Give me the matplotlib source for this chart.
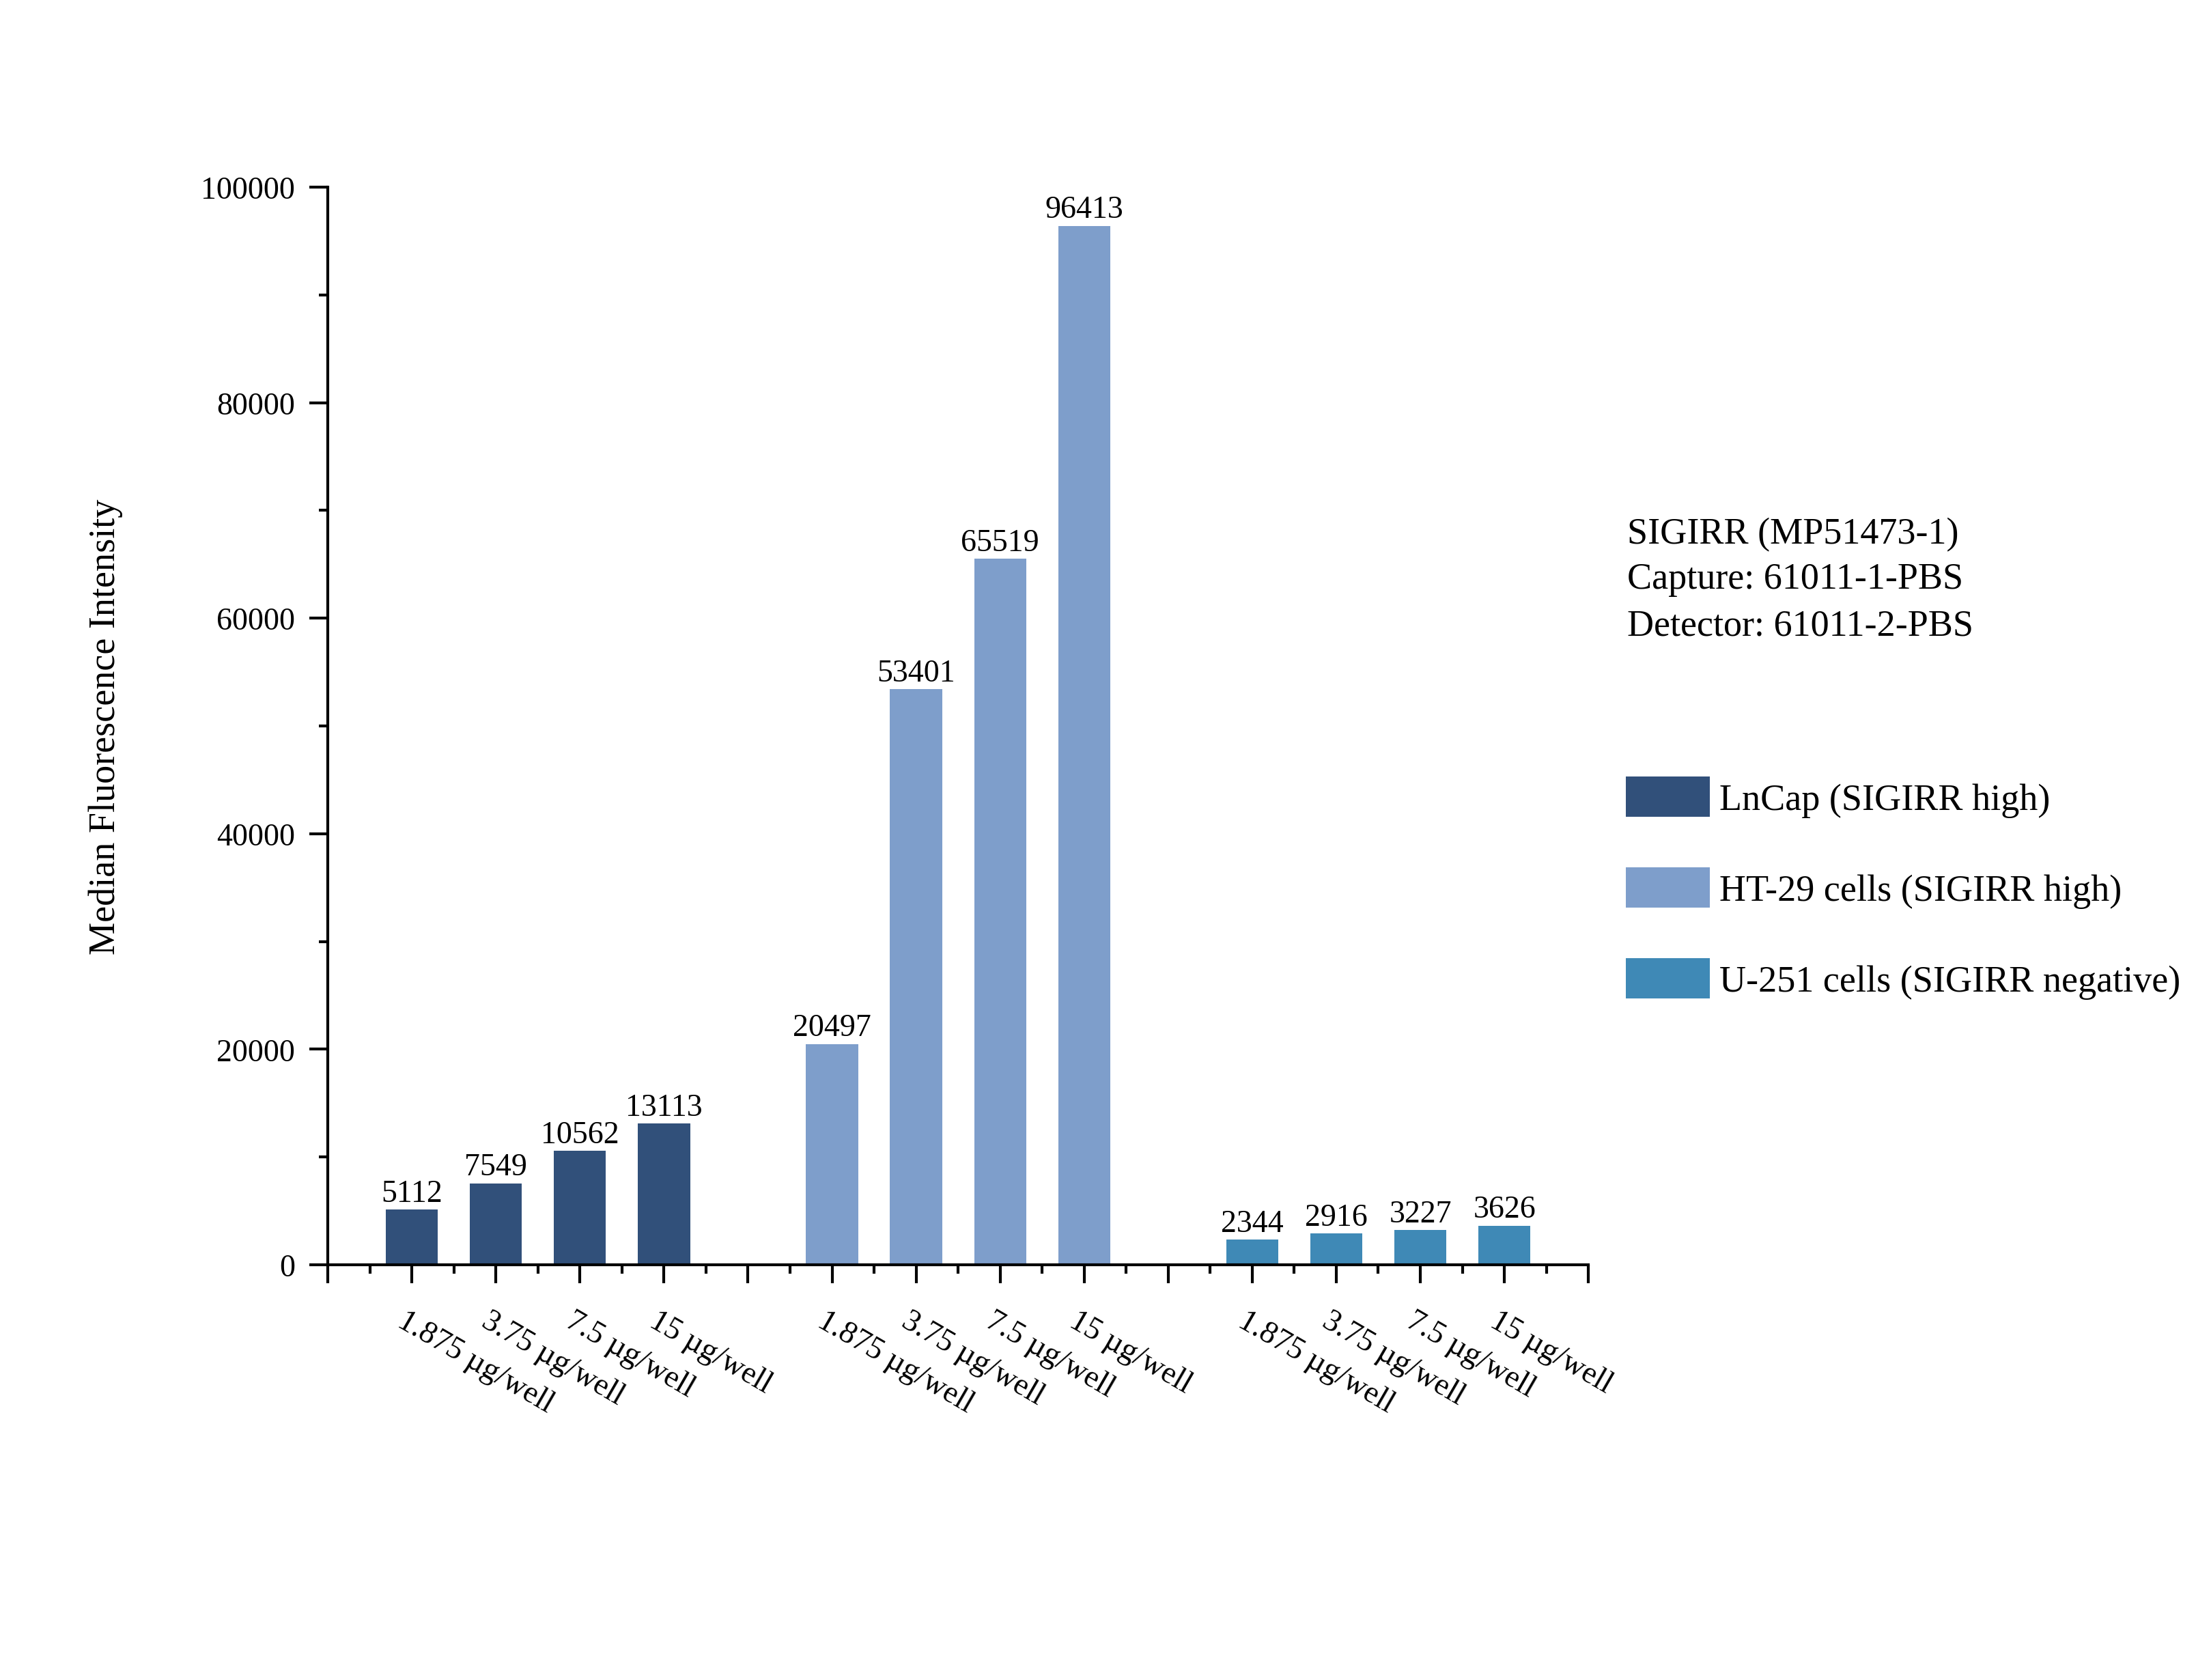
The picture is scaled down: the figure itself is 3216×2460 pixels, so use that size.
import matplotlib
matplotlib.use("Agg")
import matplotlib.pyplot as plt
import matplotlib.transforms as mtransforms
import numpy as np

plt.rcParams["font.family"] = ["Liberation Serif", "DejaVu Serif"]

# data
groups = ["LnCap (SIGIRR high)", "HT-29 cells (SIGIRR high)", "U-251 cells (SIGIRR negative)"]
doses = ["1.875 µg/well", "3.75 µg/well", "7.5 µg/well", "15 µg/well"]
lncap = [5112, 7549, 10562, 13113]
ht29 = [20497, 53401, 65519, 96413]
u251 = [2344, 2916, 3227, 3626]
colors = ["#31507A", "#7E9ECB", "#3F89B6"]
notes = ["SIGIRR (MP51473-1)", "Capture: 61011-1-PBS", "Detector: 61011-2-PBS"]

fig = plt.figure(figsize=(10.72, 8.2033), dpi=300)
ax = fig.add_axes([0.1493, 0.2470, 0.5740, 0.6413])

labels = [""] * 16
handles = []
for g, (vals, col) in enumerate(zip([lncap, ht29, u251], colors)):
    x = np.arange(len(vals)) + 1 + g * 5
    bars = ax.bar(x, vals, width=0.62, color=col, label=groups[g], zorder=2)
    handles.append(bars)
    for xi, v in zip(x, vals):
        ax.annotate(str(v), (xi, v), xytext=(0, 3), textcoords="offset points",
                    ha="center", va="baseline", fontsize=11)
    for xi, d in zip(x, doses):
        labels[xi] = d

ax.set_xlim(0, 15)
ax.set_ylim(0, 100000)
ax.set_xticks(np.arange(16))
ax.set_xticklabels(labels)
ax.set_xticks(np.arange(0.5, 15, 1), minor=True)
ax.set_yticks(np.arange(0, 100001, 20000))
ax.set_yticks(np.arange(10000, 100000, 20000), minor=True)

for s in ["top", "right"]:
    ax.spines[s].set_visible(False)
for s in ["left", "bottom"]:
    ax.spines[s].set_linewidth(1.0)

ax.tick_params(which="major", length=6.5, width=1.0, direction="out")
ax.tick_params(which="minor", length=3.1, width=1.0, direction="out")
ax.tick_params(axis="y", labelsize=11, pad=5)
ax.tick_params(axis="x", labelsize=11, pad=8)

shift = mtransforms.ScaledTranslation(-7 / 300, 0, fig.dpi_scale_trans)
for lbl in ax.get_xticklabels():
    lbl.set_rotation(-30)
    lbl.set_ha("left")
    lbl.set_va("top")
    lbl.set_rotation_mode("anchor")
    lbl.set_transform(lbl.get_transform() + shift)

ax.set_ylabel("Median Fluorescence Intensity", fontsize=13, va="center")
ax.yaxis.set_label_coords(-0.1764, 0.5)

ax.legend(handles, groups, loc="upper left", bbox_to_anchor=(0.7404, 0.5375),
          bbox_transform=fig.transFigure, frameon=False, fontsize=13,
          handlelength=2.26, handleheight=1.28, handletextpad=0.26,
          labelspacing=1.36, borderpad=0, borderaxespad=0)

for line, yy in zip(notes, [0.6818, 0.6550, 0.6274]):
    fig.text(0.7411, yy, line, fontsize=13, ha="left", va="center")

fig.savefig("out.png", dpi=300)
plt.close(fig)
